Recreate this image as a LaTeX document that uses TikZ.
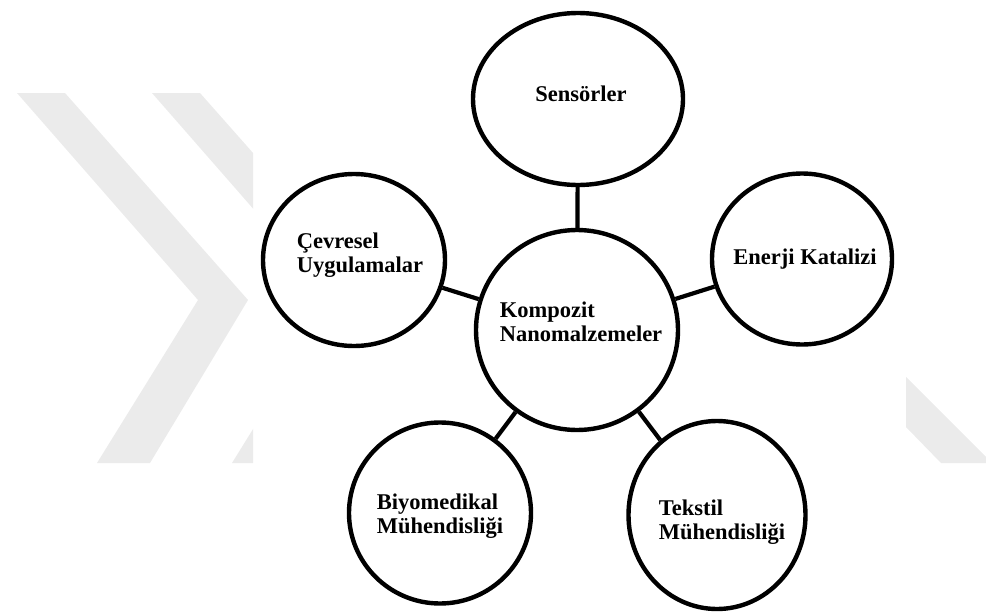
\documentclass[tikz,border=0pt]{standalone}
\usepackage{fontspec}
\setmainfont{Liberation Serif}
\usetikzlibrary{shapes.geometric}
\tikzset{
	alan/.style={draw, ellipse, line width=4.4pt, inner sep=0pt},
	yazi/.style={font=\bfseries\fontsize{22.5}{24}\selectfont, align=left, inner sep=0pt},
	baglanti/.style={line width=4.2pt},
	filigran/.style={fill=black!8, draw=none}
}

\begin{document}
\begin{tikzpicture}[x=1pt, y=-1pt]
				%%%%% START %%%%%
				\useasboundingbox (0,0) rectangle (986,616);
				
				% filigran
				\begin{scope}
					\clip (0,0) rectangle (253,616);
					\foreach \dx in {0,135}
						\fill[filigran, xshift=\dx pt] (17,93) -- (65,93) -- (248,300) -- (150,463) -- (97,463) -- (198,300) -- cycle;
				\end{scope}
				\fill[filigran] (906,377) -- (986,457) -- (986,463) -- (941,463) -- (906,427) -- cycle;
				
				\node[alan, minimum width=210pt, minimum height=172pt,
					label={[yazi, xshift=3pt, yshift=5pt]center:Sensörler}] (sensor) at (578,99) {};
				\node[alan, minimum width=202pt, minimum height=200pt,
					label={[yazi, xshift=4pt, yshift=8pt]center:{Kompozit\\Nanomalzemeler}}] (kompozit) at (577,330) {};
				\node[alan, minimum width=182pt, minimum height=172pt,
					label={[yazi, xshift=6pt, yshift=5pt]center:{Çevresel\\Uygulamalar}}] (cevre) at (354,260) {};
				\node[alan, minimum width=180pt, minimum height=171pt,
					label={[yazi, xshift=3pt]center:Enerji Katalizi}] (enerji) at (802,259) {};
				\node[alan, minimum width=182pt, minimum height=181pt,
					label={[yazi, yshift=-3pt]center:{Biyomedikal\\Mühendisliği}}] (biyo) at (440,513) {};
				\node[alan, minimum width=177pt, minimum height=188pt,
					label={[yazi, xshift=5pt, yshift=-7pt]center:{Tekstil\\Mühendisliği}}] (tekstil) at (717,515) {};
				
				\draw[baglanti] (sensor) -- (kompozit);
				\draw[baglanti] (cevre) -- (kompozit);
				\draw[baglanti] (enerji) -- (kompozit);
				\draw[baglanti] (biyo) -- (kompozit);
				\draw[baglanti] (tekstil) -- (kompozit);
				%%%%% END %%%%%
\end{tikzpicture}
\end{document}
